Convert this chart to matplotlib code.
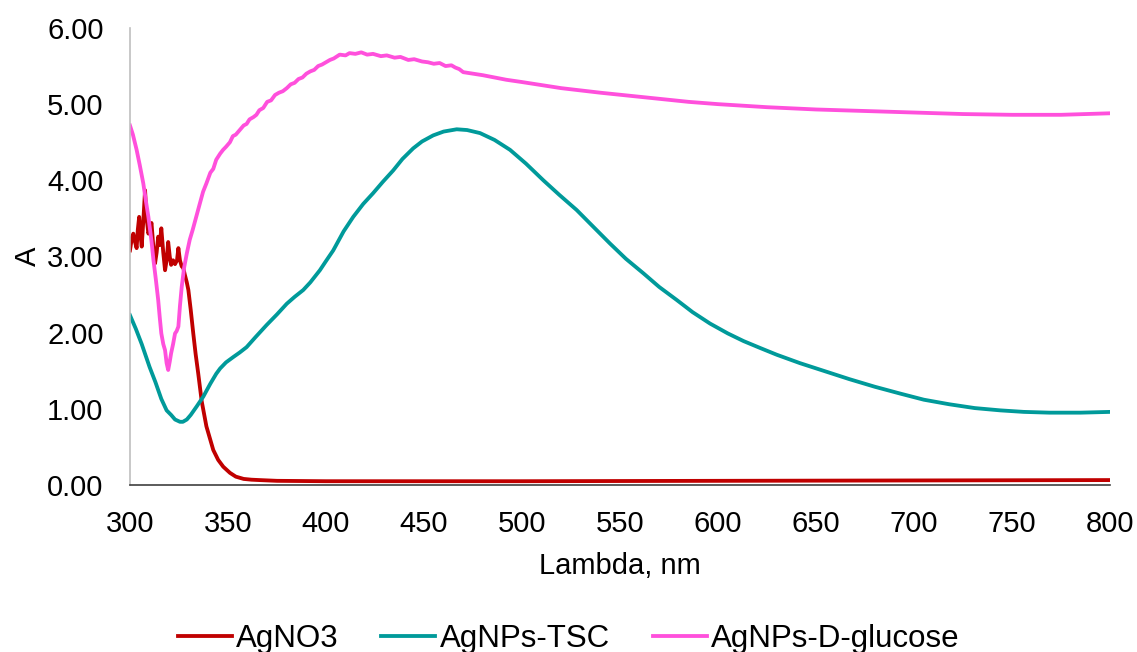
import matplotlib
matplotlib.use("Agg")
import matplotlib.pyplot as plt

plt.rcParams['font.family'] = ['Liberation Sans', 'DejaVu Sans']

# AgNO3
agno3_wl = [300, 301, 301.7, 302.5, 303.4, 304, 304.7, 305.3, 306, 307, 307.7, 308.5,
            309.4, 310.2, 311, 312, 312.8, 313.6, 314.4, 315.2, 316, 317, 317.9, 318.7,
            319.5, 320.3, 321, 322, 323, 324, 324.7, 325.5, 326.4, 327.2, 328, 329,
            329.8, 331, 332.3, 333.5, 334.8, 336.6, 339, 342.5, 345, 347.6, 351, 354, 358, 362,
            366, 375, 400, 500, 600, 700, 800]
agno3_a = [3.08, 3.25, 3.30, 3.20, 3.11, 3.35, 3.52, 3.30, 3.13, 3.55, 3.87, 3.50,
           3.30, 3.38, 3.44, 3.10, 2.91, 3.05, 3.26, 3.15, 3.37, 3.05, 2.82, 2.95,
           3.19, 3.00, 2.89, 2.95, 2.90, 2.95, 3.11, 2.95, 2.87, 2.85, 2.76, 2.66,
           2.56, 2.30, 1.99, 1.72, 1.47, 1.10, 0.77, 0.46, 0.33, 0.24, 0.16, 0.11, 0.08, 0.07,
           0.065, 0.055, 0.05, 0.05, 0.055, 0.06, 0.065]

# AgNPs-TSC
tsc_wl = [300, 303, 306, 310, 313, 316, 318.7, 321, 323, 325.5, 327, 329, 331, 334, 337.4,
          341, 344, 346, 349, 352.7, 356, 359.5, 364, 369.7, 375, 380, 384, 388.4, 392,
          396.9, 400, 403.7, 409, 413.9, 419, 424, 429, 434.3, 439, 444.5, 449, 454.7, 460,
          466.7, 472, 478.6, 486, 493.9, 502, 510.9, 519, 527.9, 536, 544.9, 553, 561.9,
          570, 578.9, 587, 595.9, 605, 613, 621.4, 630, 641.8, 655, 667, 680, 693, 705,
          718, 731, 744, 756, 769, 785, 800]
tsc_a = [2.23, 2.05, 1.85, 1.55, 1.35, 1.13, 0.98, 0.92, 0.86, 0.83, 0.83, 0.86, 0.92, 1.03,
         1.16, 1.33, 1.46, 1.53, 1.61, 1.68, 1.74, 1.81, 1.94, 2.10, 2.24, 2.38, 2.47, 2.56,
         2.66, 2.82, 2.94, 3.08, 3.33, 3.52, 3.69, 3.83, 3.98, 4.13, 4.28, 4.42, 4.51, 4.59,
         4.64, 4.67, 4.66, 4.62, 4.53, 4.40, 4.22, 4.00, 3.81, 3.61, 3.40, 3.17, 2.97, 2.78,
         2.60, 2.43, 2.27, 2.12, 1.99, 1.89, 1.80, 1.71, 1.60, 1.49, 1.39, 1.29, 1.20, 1.12,
         1.06, 1.01, 0.98, 0.96, 0.95, 0.95, 0.96]

# AgNPs-D-glucose
glc_wl = [300, 301.5, 303.4, 305, 306.8, 308, 309.4, 311, 312, 313.2, 314.4, 315.2, 316,
          317, 317.9, 318.7, 319.5, 320.3, 321, 322, 323, 323.8, 324.7, 325.5, 326.4,
          327.6, 329, 330.5, 332, 333.8, 335.7, 337.3, 339, 341, 342.5, 344, 346, 347.5,
          349, 351, 352.5, 354, 356, 358, 359.5, 361, 363, 364.5, 366, 368, 370, 372, 374,
          376, 378, 380, 382, 384, 386, 388, 390, 392, 394, 396, 398, 400, 402, 404, 407,
          410, 412, 415, 418, 421, 424, 428, 431, 435, 438, 442, 445, 449, 452, 455, 458,
          461, 464, 466, 468, 470, 475, 480, 486, 492, 500, 510, 520, 530, 540, 555, 570,
          585, 600, 625, 650, 675, 700, 725, 750, 775, 800]
glc_a = [4.72, 4.60, 4.40, 4.20, 3.96, 3.75, 3.52, 3.20, 2.95, 2.70, 2.43, 2.20, 1.99,
         1.85, 1.77, 1.60, 1.51, 1.62, 1.73, 1.85, 1.99, 2.02, 2.08, 2.35, 2.60,
         2.85, 3.04, 3.22, 3.35, 3.52, 3.70, 3.85, 3.96, 4.10, 4.15, 4.27, 4.35, 4.40,
         4.44, 4.50, 4.58, 4.60, 4.66, 4.72, 4.74, 4.80, 4.83, 4.86, 4.92, 4.95, 5.03, 5.05, 5.12,
         5.15, 5.17, 5.21, 5.26, 5.28, 5.33, 5.35, 5.40, 5.43, 5.45, 5.50, 5.52, 5.55, 5.58, 5.60, 5.65,
         5.64, 5.67, 5.66, 5.68, 5.65, 5.66, 5.63, 5.64, 5.61, 5.62, 5.58, 5.59, 5.56, 5.55, 5.53, 5.54,
         5.50, 5.51, 5.48, 5.46, 5.42, 5.40, 5.38, 5.35, 5.32, 5.29, 5.25, 5.21, 5.18, 5.15, 5.11, 5.07,
         5.03, 5.00, 4.96, 4.93, 4.91, 4.89, 4.87, 4.86, 4.86, 4.88]

fig = plt.figure(figsize=(11.37, 6.52), dpi=100)
ax = fig.add_axes([0.1143, 0.2561, 0.862, 0.701])

lw = 2.75
ax.plot(agno3_wl, agno3_a, color='#C00000', lw=lw, label='AgNO3', solid_joinstyle='round')
ax.plot(tsc_wl, tsc_a, color='#009A9A', lw=lw, label='AgNPs-TSC', solid_joinstyle='round')
ax.plot(glc_wl, glc_a, color='#FF50DC', lw=lw, label='AgNPs-D-glucose', solid_joinstyle='round')

ax.set_xlim(300, 800)
ax.set_ylim(0, 6)
ax.set_xticks(range(300, 801, 50))
ax.set_yticks(range(0, 7))
ax.yaxis.set_major_formatter(matplotlib.ticker.FormatStrFormatter('%.2f'))

ax.spines['top'].set_visible(False)
ax.spines['right'].set_visible(False)
ax.spines['left'].set_color('#BFBFBF')
ax.spines['left'].set_linewidth(1.2)
ax.spines['bottom'].set_color('#404040')
ax.spines['bottom'].set_linewidth(1.2)
ax.tick_params(axis='both', length=0, labelsize=21, colors='black')
ax.tick_params(axis='y', pad=19)
ax.tick_params(axis='x', pad=18)

ax.set_xlabel('Lambda, nm', fontsize=21, labelpad=10)
ax.set_ylabel('A', fontsize=21, labelpad=4)

fig.legend(loc='lower center', bbox_to_anchor=(0.5, -0.046), ncol=3, frameon=False,
           fontsize=22.5, handlelength=1.73, handletextpad=0.13, columnspacing=1.38)

fig.savefig('out.png', dpi=100)
